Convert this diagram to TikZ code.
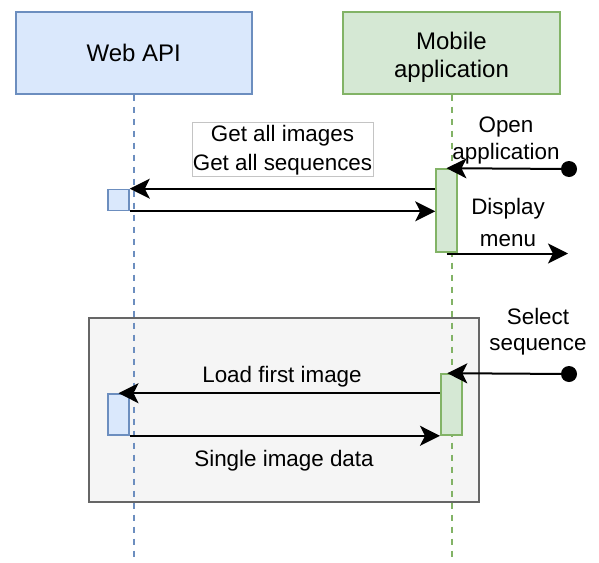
\documentclass[tikz,border=0pt]{standalone}
\usepackage{fontspec}
\setmainfont{Liberation Sans}
\usetikzlibrary{arrows.meta}

\definecolor{webfill}{HTML}{DAE8FC}
\definecolor{webline}{HTML}{6C8EBF}
\definecolor{appfill}{HTML}{D5E8D4}
\definecolor{appline}{HTML}{82B366}
\definecolor{grpfill}{HTML}{F5F5F5}
\definecolor{grpline}{HTML}{666666}
\definecolor{noteline}{HTML}{C4C4C4}

\tikzset{
  msgtip/.tip={Stealth[length=20pt,width=20pt,inset=5pt]},
}

\begin{document}
\begin{tikzpicture}[x=1pt,y=-1pt,
  header/.style={draw, line width=2pt, minimum height=82pt, inner sep=0pt,
    align=center, font=\fontsize{24}{28}\selectfont},
  webhead/.style={header, fill=webfill, draw=webline, minimum width=236pt},
  apphead/.style={header, fill=appfill, draw=appline, minimum width=217pt},
  headtext/.style={inner sep=0pt, align=center, font=\fontsize{24}{28}\selectfont},
  lifeline/.style={line width=2pt, dash pattern=on 6pt off 6pt},
  webbar/.style={draw=webline, fill=webfill, line width=1.6pt, minimum width=21pt, inner sep=0pt},
  appbar/.style={draw=appline, fill=appfill, line width=1.6pt, minimum width=21pt, inner sep=0pt},
  group/.style={draw=grpline, fill=grpfill, line width=2pt, inner sep=0pt},
  notebox/.style={draw=noteline, fill=white, line width=1pt, inner sep=0pt},
  lbl/.style={inner sep=0pt, align=center, font=\fontsize{22.4}{28}\selectfont},
  msg/.style={line width=2pt, -msgtip},
  startdot/.style={fill=black},
]
\useasboundingbox (0,0) rectangle (599,562);

% participants
\node[webhead] (web) at (133.7,52.5) {Web API};
\node[apphead, label={[headtext, yshift=-4.5pt]center:Mobile\\application}] (app) at (451.5,52.5) {};

% combined fragment behind the lifelines
\node[group, minimum width=390pt, minimum height=184pt] (frame) at (284,410) {};

% lifelines
\coordinate (webend) at (133.7,562);
\coordinate (append) at (451.5,562);
\draw[lifeline, draw=webline] (web.south) -- (webend);
\draw[lifeline, draw=appline] (app.south) -- (append);

% activation bars
\node[appbar, minimum height=83pt] (g1) at (446.5,210.5) {};
\node[webbar, minimum height=21pt] (b1) at (118.5,200) {};
\node[appbar, minimum height=61pt] (g2) at (451.3,404.5) {};
\node[webbar, minimum height=41pt] (b2) at (118.5,414.5) {};

% first request / response
\node[notebox, minimum width=181pt, minimum height=54pt] (note) at (282.5,149) {};
\node[lbl, font=\fontsize{22.4}{29}\selectfont] (notetext) at (282.5,150) {Get all images\\Get all sequences};
\draw[msg] (g1.west |- b1.north) -- (b1.north east);
\draw[msg] (b1.south east) -- (g1.west |- b1.south east);

% user opens the application
\coordinate (dot1) at (569,169);
\fill[startdot] (dot1) circle (8pt);
\draw[msg] (dot1) -- (g1.north);
\node[lbl, font=\fontsize{22.4}{27}\selectfont] (openlbl) at (506,140.5) {Open\\application};

% menu shown to the user
\coordinate (menuend) at (568,253.5);
\draw[msg] (g1.south |- menuend) -- (menuend);
\node[lbl, font=\fontsize{22.4}{32}\selectfont] (menulbl) at (508,222) {Display\\menu};

% user selects a sequence
\coordinate (dot2) at (569,374);
\fill[startdot] (dot2) circle (8pt);
\draw[msg] (dot2) -- ([xshift=-4pt]g2.north);
\node[lbl, font=\fontsize{22.4}{26}\selectfont] (selectlbl) at (538,332) {Select\\sequence};

% first image load
\draw[msg] (g2.west |- b2.north) -- (b2.north);
\node[lbl, anchor=base] (loadlbl) at (282,382) {Load first image};
\draw[msg] (b2.south east) -- (g2.south west);
\node[lbl, anchor=base] (datalbl) at (284,466.5) {Single image data};
\end{tikzpicture}
\end{document}
